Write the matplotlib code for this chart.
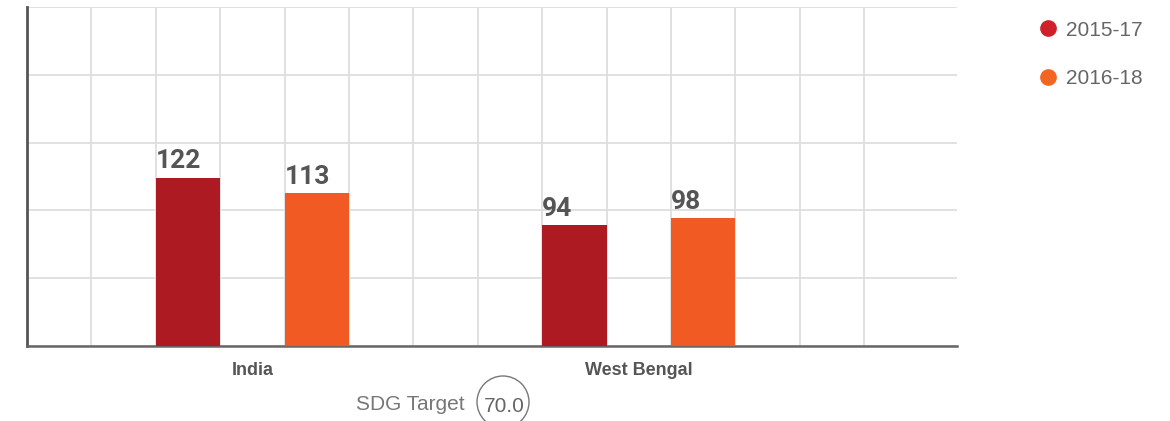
import numpy as np
from matplotlib import pyplot as plt
from matplotlib.patches import Ellipse

plt.rcParams['font.family'] = ['Liberation Sans', 'DejaVu Sans']

# data
categories = ["India", "West Bengal"]
series_names = ["2015-17", "2016-18"]
values_1517 = [122, 94]
values_1618 = [113, 98]
sdg_target = "70.0"

bar_colors = ["#ad1a21", "#f15a22"]
legend_colors = ["#d0202c", "#f26522"]

fig = plt.figure(figsize=(11.7, 4.21), dpi=100)
ax = fig.add_axes([27 / 1170, 1 - 346 / 421, (957 - 27) / 1170, 339 / 421])

# category centres in column units
centres = np.array([3.5, 9.5])
ax.bar(centres - 1, values_1517, width=1, color=bar_colors[0], zorder=3)
ax.bar(centres + 1, values_1618, width=1, color=bar_colors[1], zorder=3)

ymin, ymax = 22.7, 222.7
ax.set_ylim(ymin, ymax)
ax.set_xlim(0, 14.44)

# value labels, left aligned on bars
for xs, vals in [(centres - 1.5, values_1517), (centres + 0.5, values_1618)]:
    for x, v in zip(xs, vals):
        ax.text(x, v + 2.5, str(v), ha="left", va="bottom", fontsize=19,
                fontweight="bold", color="#555555", zorder=4,
                family=["Roboto", "DejaVu Sans"])

# grid
ax.set_yticks(np.linspace(ymin, ymax, 6))
ax.set_xticks(np.arange(1, 14))
ax.grid(True, color="#dedede", linewidth=1.3, zorder=0)
ax.tick_params(length=0, labelleft=False, labelbottom=False)
for s in ["top", "right"]:
    ax.spines[s].set_visible(False)
ax.spines["left"].set_color("#555555")
ax.spines["left"].set_linewidth(2)
ax.spines["bottom"].set_color("#666666")
ax.spines["bottom"].set_linewidth(1.8)

for c, name in zip(centres, categories):
    ax.text(c, -0.073, name, transform=ax.get_xaxis_transform(), ha="center",
            va="center", fontsize=13, fontweight="bold", color="#555555")

# SDG target
fig.text(465 / 1170, 1 - 405 / 421, "SDG Target", ha="right", va="center",
         fontsize=15, color="#777777")
fig.text(504 / 1170, 1 - 406 / 421, sdg_target, ha="center", va="center",
         fontsize=15, color="#666666")
fig.add_artist(Ellipse((503 / 1170, 1 - 402 / 421), 52 / 1170, 52 / 421,
                       transform=fig.transFigure, fill=False,
                       edgecolor="#777777", linewidth=1))

# legend
for i, (name, col) in enumerate(zip(series_names, legend_colors)):
    yy = 1 - (28 + 49 * i) / 421
    fig.add_artist(plt.Line2D([1048 / 1170], [yy], marker="o", markersize=11,
                              color=col, transform=fig.transFigure))
    fig.text(1066 / 1170, yy - 2 / 421, name, ha="left", va="center",
             fontsize=15, color="#666666")

plt.savefig("out.png", dpi=100)
